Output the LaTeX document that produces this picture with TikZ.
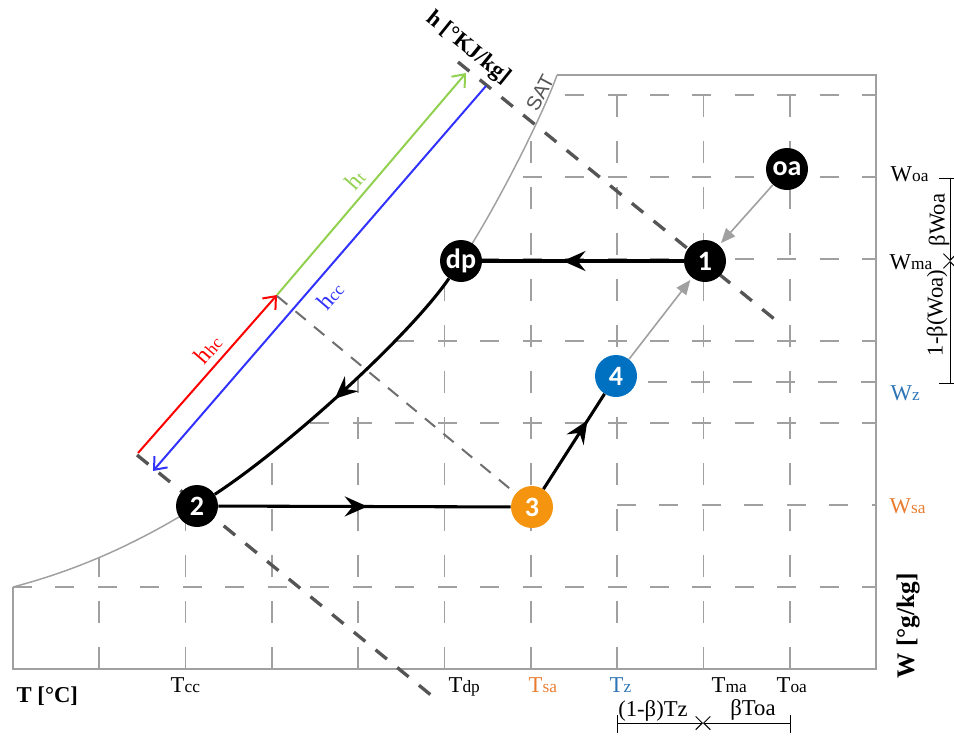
\documentclass[tikz,border=0pt]{standalone}
\usepackage{fontspec}
\setmainfont{Liberation Serif}
\newfontfamily\nodefont{Carlito}
\newfontfamily\satfont{Liberation Sans}
\usetikzlibrary{arrows.meta,decorations.markings}
\definecolor{gridgray}{RGB}{160,160,160}
\definecolor{hgray}{RGB}{85,85,85}
\definecolor{thingray}{RGB}{110,110,110}
\definecolor{arrowgray}{RGB}{160,160,160}
\definecolor{orangenode}{RGB}{245,148,15}
\definecolor{bluenode}{RGB}{0,112,192}
\definecolor{bluetext}{RGB}{46,117,182}
\definecolor{orangetext}{RGB}{232,125,50}
\definecolor{greenline}{RGB}{146,208,80}
\definecolor{redline}{RGB}{255,0,0}
\definecolor{blueline}{RGB}{50,50,255}
\newcommand\myfs[1]{\fontsize{#1}{#1}\selectfont}
\newcommand\lowsub[1]{{\myfs{13}#1}}
\begin{document}
\begin{tikzpicture}[x=0.75pt,y=-0.75pt,
  state/.style={circle, fill=black, minimum size=31.5pt, inner sep=0pt, text=white, font=\nodefont\bfseries\myfs{21}},
  hgrid/.style={draw=gridgray, line width=1.3pt, dash pattern=on 14.25pt off 17.6pt},
  vgrid/.style={draw=gridgray, line width=1.3pt, dash pattern=on 16.5pt off 18pt},
  hline/.style={draw=hgray, line width=2.5pt, dash pattern=on 11pt off 10pt},
  thinh/.style={draw=thingray, line width=1.5pt, dash pattern=on 10pt off 8pt},
  process/.style={draw=black, line width=2.3pt},
  midarrow/.style={postaction=decorate, decoration={markings, mark=at position #1 with {\arrow{Stealth[length=17pt,width=15pt,inset=6pt]}}}},
  grayarrow/.style={draw=arrowgray, line width=1.2pt, -{Triangle[length=11pt,width=9pt]}, shorten >=2pt},
  colarrow/.style={line width=1.5pt, -{Straight Barb[length=8pt,width=13pt]}},
  dimline/.style={draw=black, line width=0.7pt},
  dimtip/.style={-{Straight Barb[length=5pt,width=10pt]}},
  lab/.style={font=\myfs{17}},
  dimlab/.style={font=\myfs{17}}
]
\useasboundingbox (0,0) rectangle (954,736);

% grid clipped to the area under the saturation curve
\begin{scope}
\clip (13,587) .. controls (70,572) and (130,548) .. (197,506)
  .. controls (290,445) and (410,335) .. (461,261)
  .. controls (497,207) and (545,110) .. (557,75)
  -- (876,75) -- (876,669) -- (13,669) -- cycle;
\foreach \yy in {95,177,259,341,423,587} \draw[hgrid] (13,\yy) -- (876,\yy);
\foreach \k in {1,...,9} \draw[vgrid] ({13+86.3*\k},669) -- ({13+86.3*\k},75);
\end{scope}
\draw[hgrid] (617,505) -- (876,505);
\draw[hgrid] (606,382) -- (876,382);

% frame
\draw[gridgray, line width=1.3pt] (13,587) -- (13,669) -- (876,669) -- (876,75) -- (557,75);
% saturation curve
\draw[gridgray, line width=1.1pt] (13,587) .. controls (70,572) and (130,548) .. (197,506);
\draw[gridgray, line width=1.1pt] (461,261) .. controls (497,207) and (545,110) .. (557,75);

% enthalpy lines
\coordinate (h1a) at (458,62); \coordinate (h1b) at (778,322);
\draw[hline] (h1a) -- (h1b);
\coordinate (h2a) at (137,455); \coordinate (h2b) at (437,700);
\draw[hline] (h2a) -- (h2b);

% coloured enthalpy differences
\coordinate (gA) at (277,295); \coordinate (gB) at (466,73);
\coordinate (rA) at (138,453);
\coordinate (bA) at (486,86); \coordinate (bB) at (153,471);
\draw[greenline, colarrow] (gA) -- (gB);
\draw[redline, colarrow] (rA) -- (gA);
\draw[blueline, colarrow] (bA) -- (bB);
\node[text=greenline, rotate=49, font=\myfs{18}] (lt) at (355,180) {h\lowsub{t}};
\node[text=redline, rotate=49, font=\myfs{18}] (lhc) at (208,349) {h\lowsub{hc}};
\node[text=blueline, rotate=49, font=\myfs{18}] (lcc) at (330,296) {h\lowsub{cc}};

% states
\node[state] (oa) at (787,169) {oa};
\node[state] (n1) at (705,261) {1};
\node[state] (dp) at (461,261) {dp};
\node[state] (n2) at (197,506) {2};
\node[state, fill=orangenode] (n3) at (532,507) {3};
\node[state, fill=bluenode] (n4) at (616,376) {4};

\coordinate (h3a) at (277,296);
\draw[thinh] (h3a) -- (n3);

% process
\draw[process, midarrow=0.6] (n1) -- (dp);
\draw[process, midarrow=0.52] (dp) .. controls (410,335) and (290,445) .. (n2);
\draw[process, midarrow=0.51] (n2) -- (n3);
\draw[process, midarrow=0.72] (n3) -- (n4);
\draw[grayarrow] (oa) -- (n1);
\draw[grayarrow] (n4) -- (n1);

% axis labels
\node[font=\bfseries\myfs{17}, rotate=-39] (hlab) at (468,48) {h [°KJ/kg]};
\node[font=\satfont\myfs{15}, text=hgray, rotate=62] (sat) at (540,93) {SAT};
\node[font=\bfseries\myfs{17}, anchor=base west] (tlab) at (12,702) {T [°C]};
\node[font=\bfseries\myfs{19}, rotate=90] (wlab) at (908,626) {W [°g/kg]};

% temperature labels
\node[lab, anchor=base west] (tcc) at (166,692) {T\lowsub{cc}};
\node[lab, anchor=base west] (tdp) at (444,692) {T\lowsub{dp}};
\node[lab, anchor=base west, text=orangetext] (tsa) at (524,692) {T\lowsub{sa}};
\node[lab, anchor=base west, text=bluetext] (tz) at (605,692) {T\lowsub{z}};
\node[lab, anchor=base west] (tma) at (707,692) {T\lowsub{ma}};
\node[lab, anchor=base west] (toa) at (772,692) {T\lowsub{oa}};

% humidity labels
\node[lab, anchor=base west] (woa) at (886,181) {W\lowsub{oa}};
\node[lab, anchor=base west] (wma) at (885,269) {W\lowsub{ma}};
\node[lab, anchor=base west, text=bluetext] (wz) at (886,400) {W\lowsub{z}};
\node[lab, anchor=base west, text=orangetext] (wsa) at (885,513) {W\lowsub{sa}};

% dimension: temperature
\coordinate (dT1) at (617,723); \coordinate (dTm) at (703,723); \coordinate (dT2) at (790,723);
\draw[dimline, dimtip] (dT1) -- (dTm);
\draw[dimline, dimtip] (dT2) -- (dTm);
\draw[dimline] (617,715) -- (617,733);
\draw[dimline] (790,715) -- (790,733);
\node[dimlab] (dl1) at (653,711) {(1-β)Tz};
\node[dimlab] (dl2) at (753,710) {βToa};

% dimension: humidity
\coordinate (dW1) at (950,178); \coordinate (dWm) at (950,261); \coordinate (dW2) at (950,383);
\draw[dimline, dimtip] (dW1) -- (dWm);
\draw[dimline, dimtip] (dW2) -- (dWm);
\draw[dimline] (939,178) -- (954,178);
\draw[dimline] (939,383) -- (954,383);
\node[dimlab, rotate=90] (dl3) at (939,220) {βWoa};
\node[dimlab, rotate=90] (dl4) at (937,313) {1-β(Woa)};
\end{tikzpicture}
\end{document}
